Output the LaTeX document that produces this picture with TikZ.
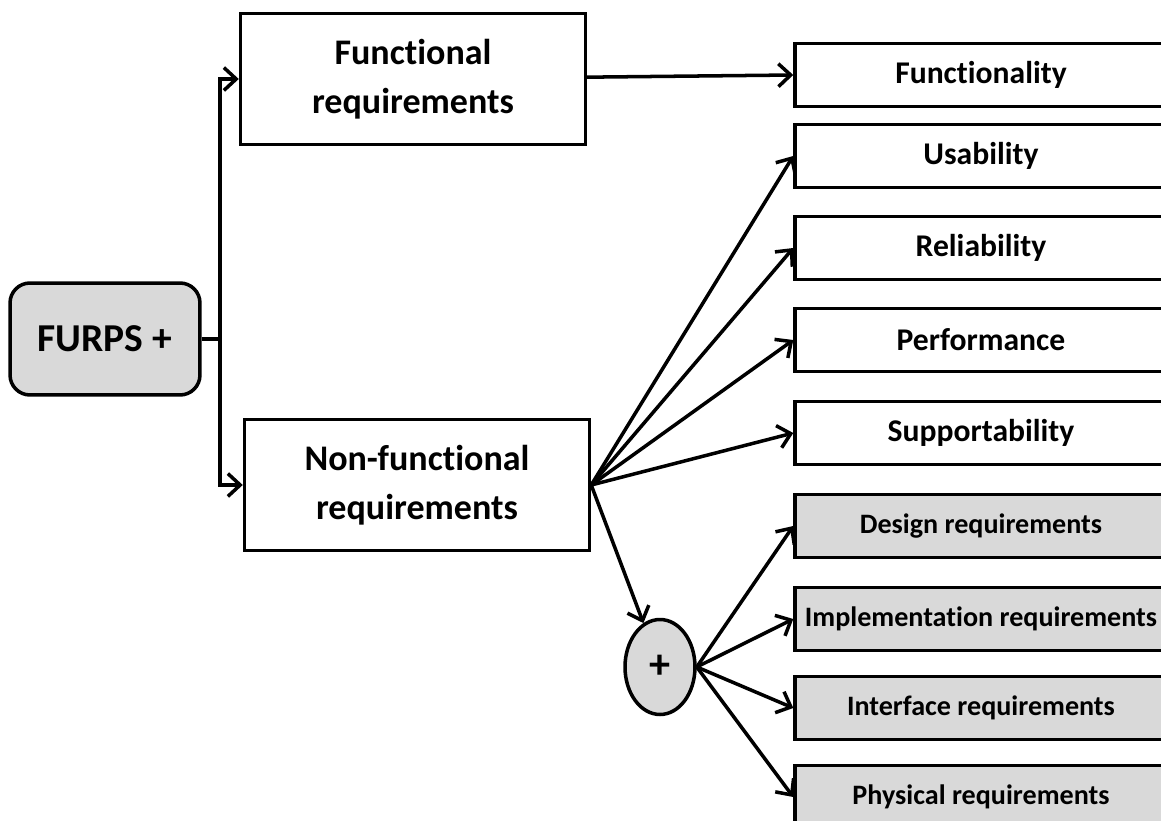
\documentclass[tikz,border=0pt]{standalone}
\usepackage{fontspec}
\setmainfont{Carlito}[Ligatures=NoCommon]
\usepackage{tikz}
\usetikzlibrary{arrows.meta,positioning,shapes.geometric}
\definecolor{boxgray}{RGB}{217,217,217}

\begin{document}
\begin{tikzpicture}[x=0.02cm,y=-0.02cm,>={Straight Barb[length=7pt,width=13pt]},line width=2pt]
%              ---> Functional ----------> Functionality
%  FURPS+ ----|                       /--> U, R, P, S
%              ---> Non-functional --<
%                                     \--> (+) --> design, impl., interface, physical
    \tikzstyle{every node}=[font=\bfseries, align=center, inner sep=0pt]
    \tikzstyle{kind}=[draw, rectangle, minimum width=6.9cm, minimum height=2.62cm, font=\fontsize{20.5}{28}\selectfont\bfseries]
    \tikzstyle{furps}=[draw, rectangle, minimum width=7.44cm, minimum height=1.26cm, font=\fontsize{18}{22}\selectfont\bfseries]
    \tikzstyle{plusreq}=[furps, fill=boxgray, font=\fontsize{16}{19}\selectfont\bfseries]

    \useasboundingbox (0,0) rectangle (1161,821);

    \node[draw, rounded corners=0.4cm, fill=boxgray, minimum width=3.8cm, minimum height=2.24cm,
          font=\fontsize{22.5}{26}\selectfont\bfseries] (root) at (105,339) {FURPS +};
    \coordinate (split) at (220,339);

    \node[kind] (func) at (413,79) {Functional\\requirements};
    \node[kind] (nonfunc) at (417,485) {Non-functional\\requirements};

    % FURPS
    \node[furps] (functionality) at (981,75) {Functionality};
    \node[furps] (usability) at (981,156) {Usability};
    \node[furps] (reliability) at (981,248) {Reliability};
    \node[furps] (performance) at (981,340) {Performance};
    \node[furps] (supportability) at (981,433) {Supportability};
    % the "+"
    \node[draw, ellipse, fill=boxgray, minimum width=1.4cm, minimum height=1.9cm,
          font=\fontsize{24}{28}\selectfont\bfseries] (plus) at (660,667) {+};
    \node[plusreq] (design) at (981,526) {Design requirements};
    \node[plusreq] (implementation) at (981,619) {Implementation requirements};
    \node[plusreq] (interface) at (981,708) {Interface requirements};
    \node[plusreq] (physical) at (981,797) {Physical requirements};

    \draw (root) -- (split);
    \draw[->] (split) |- (func);
    \draw[->] (split) |- (nonfunc);

    \path[->] (func) edge (functionality.west);

    \path[->] (nonfunc.east) edge (usability.west)
              (nonfunc.east) edge (reliability.west)
              (nonfunc.east) edge (performance.west)
              (nonfunc.east) edge (supportability.west)
              (nonfunc.east) edge (plus);

    \path[->] (plus.east) edge (design.west)
              (plus.east) edge (implementation.west)
              (plus.east) edge (interface.west)
              (plus.east) edge (physical.west);
\end{tikzpicture}
\end{document}
